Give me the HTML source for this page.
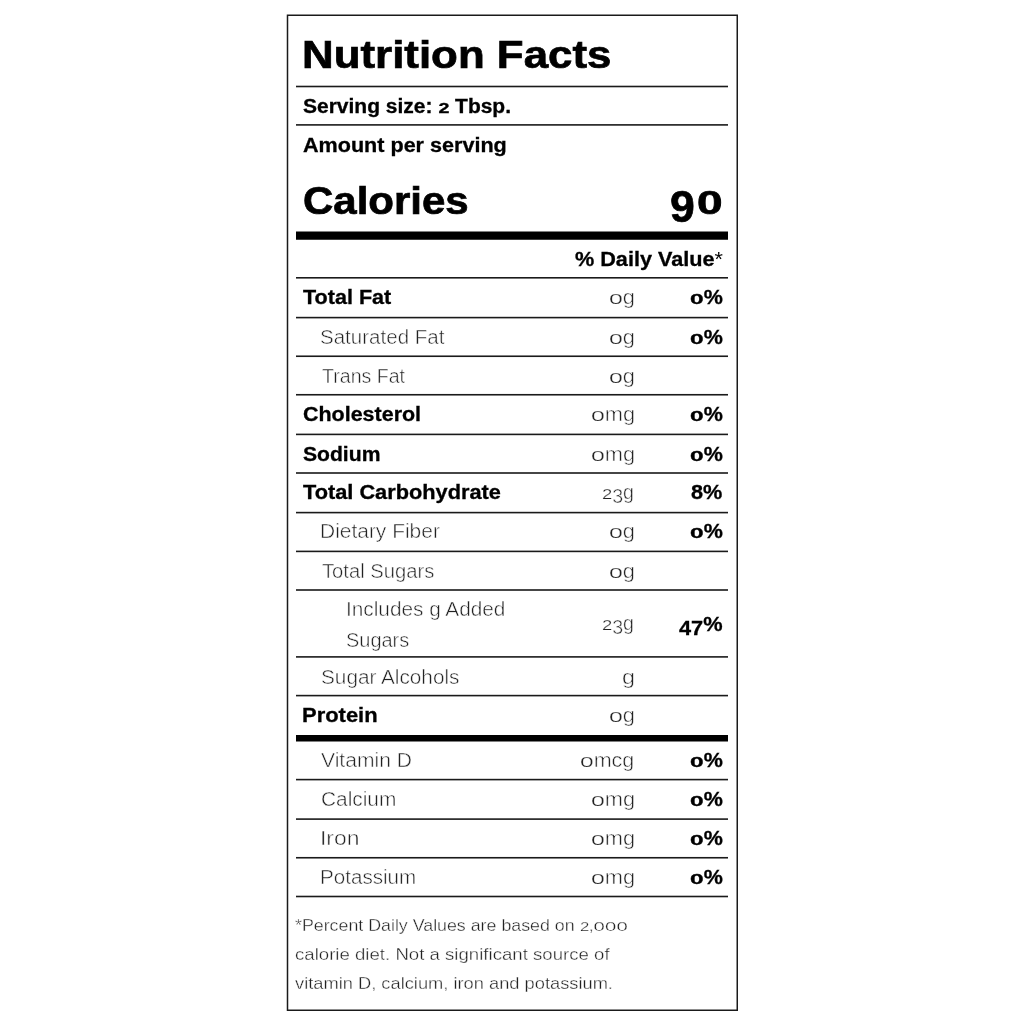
<!DOCTYPE html>
<html lang="en">
<head>
<meta charset="utf-8">
<title>Nutrition Facts</title>
<style>
html,body{margin:0;padding:0;background:#fff;}
body{width:1024px;height:1024px;position:relative;overflow:hidden;font-family:"Liberation Sans",sans-serif;color:#000;}
#rules{position:absolute;left:0;top:0;width:1024px;height:1024px;}
.t{position:absolute;display:block;white-space:nowrap;line-height:1;margin:0;padding:0;font-weight:400;transform-origin:0 0;color:#222;-webkit-text-stroke:.5px #fff;}
.fl{-webkit-text-stroke-width:.36px;}
.amt .n0,.amt .n2,.fl .n0,.fl .n2{-webkit-text-stroke-width:.25px;}
.b,.dv{font-weight:700;color:#000;-webkit-text-stroke:.3px #000;}
#title,#cal{-webkit-text-stroke-width:.7px;}
.n0{display:inline-block;font-size:.76em;transform:scaleX(1.5);margin:0 .14em;}
.n2{display:inline-block;font-size:.77em;transform:scaleX(1.22);margin:0 .06em;}
.ast{font-weight:400;-webkit-text-stroke:0;}
.n1{position:relative;top:.2em;}
#calv span{position:absolute;display:block;line-height:1;font-weight:700;color:#000;transform-origin:0 0;-webkit-text-stroke:.7px #000;}
.foot{margin:0;}
</style>
</head>
<body>
<svg id="rules" width="1024" height="1024" viewBox="0 0 1024 1024" aria-hidden="true">
<rect x="287.5" y="15.25" width="449.75" height="995" fill="none" stroke="#1a1a1a" stroke-width="1.5"/>
<rect x="296" y="85.70" width="432" height="1.6" fill="#1a1a1a"/>
<rect x="296" y="124.10" width="432" height="1.6" fill="#1a1a1a"/>
<rect x="296" y="277.00" width="432" height="1.6" fill="#1a1a1a"/>
<rect x="296" y="316.80" width="432" height="1.6" fill="#1a1a1a"/>
<rect x="296" y="355.45" width="432" height="1.6" fill="#1a1a1a"/>
<rect x="296" y="393.95" width="432" height="1.6" fill="#1a1a1a"/>
<rect x="296" y="433.60" width="432" height="1.6" fill="#1a1a1a"/>
<rect x="296" y="472.20" width="432" height="1.6" fill="#1a1a1a"/>
<rect x="296" y="511.80" width="432" height="1.6" fill="#1a1a1a"/>
<rect x="296" y="550.60" width="432" height="1.6" fill="#1a1a1a"/>
<rect x="296" y="589.20" width="432" height="1.6" fill="#1a1a1a"/>
<rect x="296" y="656.10" width="432" height="1.6" fill="#1a1a1a"/>
<rect x="296" y="694.80" width="432" height="1.6" fill="#1a1a1a"/>
<rect x="296" y="778.80" width="432" height="1.6" fill="#1a1a1a"/>
<rect x="296" y="818.30" width="432" height="1.6" fill="#1a1a1a"/>
<rect x="296" y="856.95" width="432" height="1.6" fill="#1a1a1a"/>
<rect x="296" y="895.70" width="432" height="1.6" fill="#1a1a1a"/>
<rect x="296" y="231.5" width="432" height="8.25" fill="#000"/>
<rect x="296" y="735.0" width="432" height="6.5" fill="#000"/>
</svg>
<section id="label">
<header>
<h1 id="title" class="t b" style="left:302.10px;top:34.76px;font-size:39px;transform:scaleX(1.1245)">Nutrition Facts</h1>
<div id="serv" class="t b" style="left:302.56px;top:96.25px;font-size:20px;transform:scaleX(1.0494)">Serving size: <span class="n2">2</span> Tbsp.</div>
<div id="amtper" class="t b" style="left:302.62px;top:134.75px;font-size:20px;transform:scaleX(1.0784)">Amount per serving</div>
<div id="cal" class="t b" style="left:303.02px;top:180.51px;font-size:39px;transform:scaleX(1.0767)">Calories</div>
<div id="calv"><span id="n9" style="left:669.67px;top:184.68px;font-size:44.44px;transform:scaleX(1.0036)">9</span><span id="n0" style="left:696.71px;top:186.87px;font-size:32.35px;transform:scaleX(1.4205)">0</span></div>
<div id="dvh" class="t b" style="left:574.87px;top:248.80px;font-size:20px;transform:scaleX(1.0818)">% Daily Value<span class="ast">*</span></div>
</header>
<div class="row"><span id="r1l" class="t lbl b" style="left:302.61px;top:287.11px;font-size:20px;transform:scaleX(1.0779)">Total Fat</span><span id="r1a" class="t amt" style="left:608.83px;top:287.11px;font-size:20px;transform:scaleX(1.0922)"><span class="n0">0</span>g</span><span id="r1d" class="t dv" style="left:690.19px;top:287.11px;font-size:20px;transform:scaleX(1.0752)"><span class="n0">0</span>%</span></div>
<div class="row"><span id="r2l" class="t lbl s" style="left:320.38px;top:326.80px;font-size:20px;transform:scaleX(1.0268)">Saturated Fat</span><span id="r2a" class="t amt" style="left:608.83px;top:326.80px;font-size:20px;transform:scaleX(1.0922)"><span class="n0">0</span>g</span><span id="r2d" class="t dv" style="left:690.19px;top:326.80px;font-size:20px;transform:scaleX(1.0752)"><span class="n0">0</span>%</span></div>
<div class="row"><span id="r3l" class="t lbl s" style="left:321.82px;top:365.50px;font-size:20px;transform:scaleX(0.9789)">Trans Fat</span><span id="r3a" class="t amt" style="left:608.83px;top:365.50px;font-size:20px;transform:scaleX(1.0922)"><span class="n0">0</span>g</span></div>
<div class="row"><span id="r4l" class="t lbl b" style="left:302.65px;top:403.91px;font-size:20px;transform:scaleX(1.0732)">Cholesterol</span><span id="r4a" class="t amt" style="left:590.86px;top:403.91px;font-size:20px;transform:scaleX(1.0914)"><span class="n0">0</span>mg</span><span id="r4d" class="t dv" style="left:690.19px;top:403.91px;font-size:20px;transform:scaleX(1.0752)"><span class="n0">0</span>%</span></div>
<div class="row"><span id="r5l" class="t lbl b" style="left:303.08px;top:443.50px;font-size:20px;transform:scaleX(1.0555)">Sodium</span><span id="r5a" class="t amt" style="left:590.86px;top:443.50px;font-size:20px;transform:scaleX(1.0914)"><span class="n0">0</span>mg</span><span id="r5d" class="t dv" style="left:690.19px;top:443.50px;font-size:20px;transform:scaleX(1.0752)"><span class="n0">0</span>%</span></div>
<div class="row"><span id="r6l" class="t lbl b" style="left:302.61px;top:482.30px;font-size:20px;transform:scaleX(1.0880)">Total Carbohydrate</span><span id="r6a" class="t amt" style="left:602.12px;top:482.30px;font-size:20px;transform:scaleX(0.9800)"><span class="n2">2</span><span class="n1">3</span>g</span><span id="r6d" class="t dv" style="left:690.83px;top:482.30px;font-size:20px;transform:scaleX(1.0834)">8%</span></div>
<div class="row"><span id="r7l" class="t lbl s" style="left:320.30px;top:521.41px;font-size:20px;transform:scaleX(1.0473)">Dietary Fiber</span><span id="r7a" class="t amt" style="left:608.83px;top:521.41px;font-size:20px;transform:scaleX(1.0922)"><span class="n0">0</span>g</span><span id="r7d" class="t dv" style="left:690.19px;top:521.41px;font-size:20px;transform:scaleX(1.0752)"><span class="n0">0</span>%</span></div>
<div class="row"><span id="r8l" class="t lbl s" style="left:321.73px;top:560.50px;font-size:20px;transform:scaleX(1.0113)">Total Sugars</span><span id="r8a" class="t amt" style="left:608.83px;top:560.50px;font-size:20px;transform:scaleX(1.0922)"><span class="n0">0</span>g</span></div>
<div class="row"><span id="r9l" class="t lbl s" style="left:346.43px;top:599.25px;font-size:20px;transform:scaleX(1.0388)">Includes g Added</span><span id="r9m" class="t lbl s" style="left:345.98px;top:629.60px;font-size:20px;transform:scaleX(0.9972)">Sugars</span><span id="r9a" class="t amt" style="left:602.12px;top:613.41px;font-size:20px;transform:scaleX(0.9800)"><span class="n2">2</span><span class="n1">3</span>g</span><span id="r9d" class="t dv" style="left:678.56px;top:614.00px;font-size:20px;transform:scaleX(1.0875)"><span class="n1">4</span><span class="n1">7</span>%</span></div>
<div class="row"><span id="r10l" class="t lbl s" style="left:320.64px;top:666.61px;font-size:20px;transform:scaleX(1.0376)">Sugar Alcohols</span><span id="r10a" class="t amt" style="left:621.84px;top:666.61px;font-size:20px;transform:scaleX(1.1689)">g</span></div>
<div class="row"><span id="r11l" class="t lbl b" style="left:302.47px;top:705.11px;font-size:20px;transform:scaleX(1.0975)">Protein</span><span id="r11a" class="t amt" style="left:608.83px;top:705.11px;font-size:20px;transform:scaleX(1.0922)"><span class="n0">0</span>g</span></div>
<div class="row"><span id="r12l" class="t lbl s" style="left:321.40px;top:750.00px;font-size:20px;transform:scaleX(1.0541)">Vitamin D</span><span id="r12a" class="t amt" style="left:580.16px;top:750.00px;font-size:20px;transform:scaleX(1.0758)"><span class="n0">0</span>mcg</span><span id="r12d" class="t dv" style="left:690.19px;top:750.00px;font-size:20px;transform:scaleX(1.0752)"><span class="n0">0</span>%</span></div>
<div class="row"><span id="r13l" class="t lbl s" style="left:321.20px;top:789.00px;font-size:20px;transform:scaleX(1.0415)">Calcium</span><span id="r13a" class="t amt" style="left:590.86px;top:789.00px;font-size:20px;transform:scaleX(1.0914)"><span class="n0">0</span>mg</span><span id="r13d" class="t dv" style="left:690.19px;top:789.00px;font-size:20px;transform:scaleX(1.0752)"><span class="n0">0</span>%</span></div>
<div class="row"><span id="r14l" class="t lbl s" style="left:320.37px;top:827.61px;font-size:20px;transform:scaleX(1.1441)">Iron</span><span id="r14a" class="t amt" style="left:590.86px;top:827.61px;font-size:20px;transform:scaleX(1.0914)"><span class="n0">0</span>mg</span><span id="r14d" class="t dv" style="left:690.19px;top:827.61px;font-size:20px;transform:scaleX(1.0752)"><span class="n0">0</span>%</span></div>
<div class="row"><span id="r15l" class="t lbl s" style="left:320.43px;top:866.75px;font-size:20px;transform:scaleX(1.0306)">Potassium</span><span id="r15a" class="t amt" style="left:590.86px;top:866.75px;font-size:20px;transform:scaleX(1.0914)"><span class="n0">0</span>mg</span><span id="r15d" class="t dv" style="left:690.19px;top:866.75px;font-size:20px;transform:scaleX(1.0752)"><span class="n0">0</span>%</span></div>
<p class="foot"><span id="f1" class="t fl" style="left:295.23px;top:917.11px;font-size:17px;transform:scaleX(1.0467)">*Percent Daily Values are based on <span class="n2">2</span>,<span class="n0">0</span><span class="n0">0</span><span class="n0">0</span></span>
<span id="f2" class="t fl" style="left:294.84px;top:946.25px;font-size:17px;transform:scaleX(1.0952)">calorie diet. Not a significant source of</span>
<span id="f3" class="t fl" style="left:294.50px;top:974.61px;font-size:17px;transform:scaleX(1.0751)">vitamin D, calcium, iron and potassium.</span></p>
</section>
</body>
</html>
